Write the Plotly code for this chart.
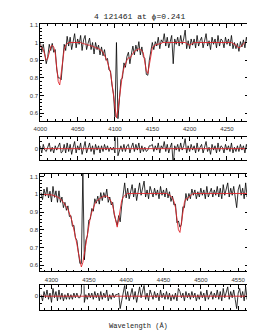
import plotly.graph_objects as go

# ---------------- data ----------------
wave_blue = list(range(4000, 4281, 2))
model_blue = [0.985, 0.975, 0.96, 0.93, 0.90, 0.91, 0.95, 0.975, 0.985, 0.975,
              0.94, 0.86, 0.78, 0.76, 0.82, 0.91, 0.96, 0.985, 0.995, 1.0,
              1.0, 1.0, 1.0, 1.0, 1.0, 1.0, 1.0, 1.0, 0.995, 0.995,
              0.99, 0.99, 0.985, 0.985, 0.98, 0.98, 0.975, 0.97, 0.97, 0.965,
              0.96, 0.955, 0.945, 0.93, 0.91, 0.89, 0.865, 0.83, 0.77, 0.70,
              0.61, 0.575, 0.62, 0.70, 0.77, 0.82, 0.855, 0.88, 0.90, 0.915,
              0.91, 0.925, 0.94, 0.95, 0.955, 0.96, 0.965, 0.96, 0.955, 0.94,
              0.90, 0.84, 0.825, 0.88, 0.94, 0.97, 0.98, 0.985, 0.99, 0.99,
              0.995, 0.995, 1.0, 1.0, 1.0, 1.0, 1.0, 1.0, 1.0, 1.0,
              1.0, 1.0, 1.0, 1.0, 1.0, 1.0, 1.0, 1.0, 0.995, 0.99,
              0.985, 0.99, 0.995, 1.0, 1.0, 1.0, 1.0, 1.0, 1.0, 1.0,
              1.0, 1.0, 1.0, 1.0, 1.0, 1.0, 1.0, 1.0, 1.0, 1.0,
              1.0, 1.0, 1.0, 1.0, 1.0, 1.0, 1.0, 1.0, 1.0, 0.995,
              0.99, 0.985, 0.975, 0.97, 0.975, 0.985, 0.995, 1.0, 1.0, 1.0,
              1.0]
flux_blue = [1.005, 0.945, 0.99, 0.92, 0.88, 0.92, 0.99, 0.955, 0.995, 0.945,
             0.96, 0.85, 0.80, 0.80, 0.79, 0.89, 0.99, 0.955, 1.035, 0.98,
             1.03, 0.96, 1.01, 1.05, 0.97, 1.02, 0.99, 1.04, 0.955, 1.015,
             1.04, 0.96, 0.995, 1.025, 0.96, 1.00, 0.935, 1.00, 0.96, 0.985,
             0.93, 0.975, 0.925, 0.96, 0.90, 0.91, 0.845, 0.84, 0.76, 0.71,
             0.58, 1.00, 0.57, 0.69, 0.79, 0.80, 0.885, 0.86, 0.92, 0.945,
             0.88, 0.935, 0.98, 0.93, 0.985, 0.95, 1.005, 0.93, 0.975, 0.92,
             0.91, 0.82, 0.815, 0.90, 0.96, 1.00, 0.96, 1.005, 0.98, 1.03,
             0.965, 1.015, 1.00, 1.05, 0.98, 1.03, 0.97, 1.01, 1.04, 0.88,
             1.02, 0.99, 1.03, 0.98, 1.04, 0.99, 1.02, 1.07, 0.965, 1.01,
             0.965, 1.02, 0.985, 1.02, 0.97, 1.04, 0.98, 1.01, 1.03, 0.97,
             1.02, 1.05, 0.98, 1.01, 0.96, 1.03, 0.99, 1.02, 0.97, 1.04,
             0.98, 1.02, 1.01, 0.97, 1.03, 0.99, 1.02, 0.98, 1.04, 0.965,
             1.00, 0.965, 0.995, 0.95, 1.005, 0.975, 1.015, 0.97, 1.03, 0.99,
             1.04]

wave_red = list(range(4286, 4565, 2))
model_red = [1.0, 1.0, 1.0, 1.0, 1.0, 1.0, 0.998, 0.997, 0.995, 0.993,
             0.99, 0.985, 0.98, 0.975, 0.965, 0.955, 0.945, 0.93, 0.915, 0.895,
             0.87, 0.84, 0.805, 0.765, 0.72, 0.67, 0.62, 0.59, 0.615, 0.67,
             0.73, 0.785, 0.835, 0.87, 0.90, 0.925, 0.945, 0.96, 0.97, 0.975,
             0.98, 0.985, 0.99, 0.99, 0.99, 0.985, 0.975, 0.96, 0.935, 0.895,
             0.845, 0.815, 0.86, 0.925, 0.965, 0.985, 0.995, 1.0, 1.005, 1.005,
             1.005, 1.005, 1.005, 1.005, 1.005, 1.005, 1.005, 1.005, 1.005, 1.005,
             1.005, 1.005, 1.005, 1.005, 1.005, 1.005, 1.005, 1.005, 1.005, 1.005,
             1.005, 1.005, 1.005, 1.005, 1.005, 1.0, 0.995, 0.99, 0.98, 0.96,
             0.925, 0.87, 0.80, 0.785, 0.84, 0.91, 0.955, 0.975, 0.975, 0.985,
             0.995, 1.0, 1.005, 1.005, 1.005, 1.005, 1.005, 1.005, 1.005, 1.005,
             1.005, 1.005, 1.005, 1.005, 1.005, 1.005, 1.005, 1.005, 1.005, 1.005,
             1.005, 1.005, 1.005, 1.005, 1.005, 1.005, 1.005, 1.005, 1.005, 1.005,
             1.005, 1.005, 1.005, 1.005, 1.005, 1.005, 1.005, 1.005, 1.005, 1.005]
flux_red = [1.01, 0.97, 1.03, 0.99, 1.04, 0.98, 1.018, 0.957, 1.045, 0.983,
            1.02, 0.955, 1.02, 0.955, 0.985, 0.925, 0.955, 0.91, 0.935, 0.875,
            0.88, 0.82, 0.825, 0.755, 0.74, 0.66, 0.61, 0.61, 1.13, 0.63,
            0.74, 0.765, 0.855, 0.86, 0.92, 0.905, 0.975, 0.95, 0.99, 0.945,
            1.01, 0.965, 1.01, 0.98, 1.03, 0.955, 0.985, 0.94, 0.955, 0.885,
            0.855, 0.825, 0.88, 0.845, 0.935, 1.015, 1.065, 0.98, 1.035, 0.975,
            1.025, 1.055, 0.985, 1.035, 0.965, 1.025, 1.065, 0.995, 1.035, 1.075,
            0.985, 1.025, 0.975, 1.045, 1.015, 0.985, 1.035, 0.995, 1.025, 0.975,
            1.045, 0.995, 1.025, 0.985, 1.035, 0.98, 1.015, 0.96, 0.99, 0.94,
            0.945, 0.84, 0.85, 0.815, 0.83, 0.93, 0.925, 1.005, 0.965, 1.005,
            0.975, 1.03, 0.995, 1.025, 0.975, 1.015, 0.985, 1.035, 0.995, 1.025,
            0.975, 1.045, 0.985, 1.015, 1.035, 0.985, 1.025, 0.995, 1.045, 0.985,
            1.035, 0.975, 1.055, 0.995, 1.025, 1.065, 0.985, 1.035, 0.995, 1.045,
            0.985, 0.925, 1.025, 1.055, 0.995, 1.035, 0.975, 1.065, 0.985, 1.035]

resid_blue = [f - m for f, m in zip(flux_blue, model_blue)]
resid_red = [f - m for f, m in zip(flux_red, model_red)]

title_text = "4 121461 at \u03d5=0.241"
xlabel_text = "Wavelength (\u00c5)"

# ---------------- figure ----------------
W, H = 255, 330
def py(p):
    return 1 - p / H

XD = [26 / W, 241 / W]
fig = go.Figure()

obs_line = dict(color="black", width=0.8)
mod_line = dict(color="#e0242a", width=0.9)

fig.add_trace(go.Scatter(x=wave_blue, y=flux_blue, mode="lines", line=obs_line, xaxis="x", yaxis="y"))
fig.add_trace(go.Scatter(x=wave_blue, y=model_blue, mode="lines", line=mod_line, xaxis="x", yaxis="y"))
fig.add_trace(go.Scatter(x=wave_blue, y=resid_blue, mode="lines", line=obs_line, xaxis="x2", yaxis="y2"))
fig.add_trace(go.Scatter(x=wave_blue, y=[0] * len(wave_blue), mode="lines", line=mod_line, xaxis="x2", yaxis="y2"))

fig.add_trace(go.Scatter(x=wave_red, y=flux_red, mode="lines", line=obs_line, xaxis="x3", yaxis="y3"))
fig.add_trace(go.Scatter(x=wave_red, y=model_red, mode="lines", line=mod_line, xaxis="x3", yaxis="y3"))
fig.add_trace(go.Scatter(x=wave_red, y=resid_red, mode="lines", line=obs_line, xaxis="x4", yaxis="y4"))
fig.add_trace(go.Scatter(x=wave_red, y=[0] * len(wave_red), mode="lines", line=mod_line, xaxis="x4", yaxis="y4"))

tickfont = dict(family="Liberation Sans, Arial, sans-serif", size=6, color="#333")
common = dict(showline=True, linecolor="black", linewidth=0.8, mirror="allticks",
              ticks="inside", ticklen=4, tickwidth=0.6, tickcolor="black",
              showgrid=False, zeroline=False, tickfont=tickfont)

def xax(rng, anchor, labels, domain=XD):
    return dict(common, domain=domain, range=rng, anchor=anchor, dtick=50, tick0=4000,
                showticklabels=labels, ticklabelstandoff=2,
                minor=dict(ticks="inside", dtick=10, ticklen=2, tickwidth=0.5, tickcolor="black"))

def yax(rng, anchor, dom, main=True):
    d = dict(common, domain=dom, range=rng, anchor=anchor)
    if main:
        d.update(tickvals=[0.6, 0.7, 0.8, 0.9, 1.0, 1.1], ticktext=["0.6", "0.7", "0.8", "0.9", "1", "1.1"],
                 minor=dict(ticks="inside", dtick=0.02, tick0=0, ticklen=2, tickwidth=0.5, tickcolor="black"))
    else:
        d.update(tickvals=[0], ticktext=["0"],
                 minor=dict(ticks="inside", dtick=0.05, tick0=0, ticklen=2, tickwidth=0.5, tickcolor="black"))
    return d

fig.update_layout(
    width=W, height=H, margin=dict(l=0, r=0, t=0, b=0),
    paper_bgcolor="white", plot_bgcolor="white", showlegend=False,
    xaxis=xax([4000, 4280], "y", True),
    yaxis=yax([0.555, 1.105], "x", [py(112), py(14)]),
    xaxis2=xax([4000, 4280], "y2", False),
    yaxis2=yax([-0.08, 0.08], "x2", [py(151), py(128)], main=False),
    xaxis3=xax([4285, 4565], "y3", True),
    yaxis3=yax([0.565, 1.115], "x3", [py(263), py(165)]),
    xaxis4=xax([4285, 4565], "y4", False),
    yaxis4=yax([-0.09, 0.07], "x4", [py(302), py(277)], main=False),
    annotations=[
        dict(text=title_text, x=0.5, y=py(7), xref="paper", yref="paper", showarrow=False,
             xanchor="center", yanchor="middle",
             font=dict(family="Liberation Mono, monospace", size=8, color="#222")),
        dict(text=xlabel_text, x=127 / W, y=py(318), xref="paper", yref="paper", showarrow=False,
             xanchor="center", yanchor="middle",
             font=dict(family="Liberation Mono, monospace", size=7, color="#222")),
    ],
)

fig.write_html("out.html")
